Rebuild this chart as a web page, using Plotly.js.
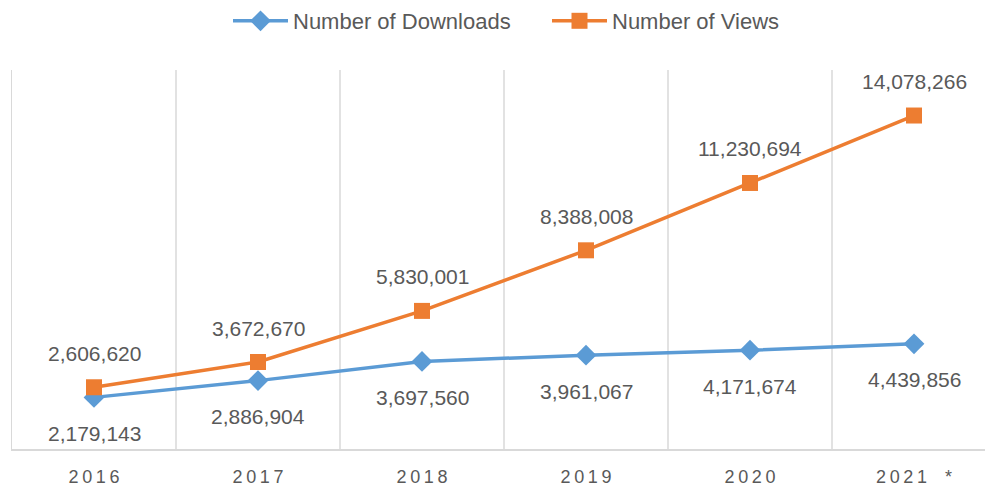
<!DOCTYPE html>
<html>
<head>
<meta charset="utf-8">
<script src="https://cdn.plot.ly/plotly-3.0.1.min.js"></script>
<style>html,body{margin:0;padding:0;background:#fff;}#chart{width:985px;height:488px;}</style>
</head>
<body>
<div id="chart"></div>
<script>
const years = ["2016", "2017", "2018", "2019", "2020", "2021 *"];
const downloads = [2179143, 2886904, 3697560, 3961067, 4171674, 4439856];
const views = [2606620, 3672670, 5830001, 8388008, 11230694, 14078266];

const FONT = "Liberation Sans, Arial, sans-serif";
const GRAY = "#595959";
const BLUE = "#5B9BD5";
const ORANGE = "#ED7D31";

function spaced(s) {
  // Emulate letter spacing of the category labels
  return s.split("").map(c => c === " " ? "\u2009\u2009\u2009" : c).join("\u2009");
}
function fmt(v) { return v.toLocaleString("en-US"); }

const idx = years.map((_, i) => i);

const traces = [
  {
    name: "Number of Downloads",
    x: idx, y: downloads, type: "scatter", mode: "lines+markers",
    line: {color: BLUE, width: 3.5},
    marker: {symbol: "diamond", size: 16, color: BLUE}
  },
  {
    name: "Number of Views",
    x: idx, y: views, type: "scatter", mode: "lines+markers",
    line: {color: ORANGE, width: 3.5},
    marker: {symbol: "square", size: 16, color: ORANGE}
  }
];

const annotations = [];
idx.forEach(i => {
  annotations.push({x: i, y: views[i], xref: "x", yref: "y", text: fmt(views[i]), showarrow: false,
    yshift: 34, xanchor: "center", yanchor: "middle",
    font: {family: FONT, size: 21, color: GRAY}});
  annotations.push({x: i, y: downloads[i], xref: "x", yref: "y", text: fmt(downloads[i]), showarrow: false,
    yshift: -36, xanchor: "center", yanchor: "middle",
    font: {family: FONT, size: 21, color: GRAY}});
});

// vertical category boundary lines
const shapes = idx.slice(1).map(i => ({
  type: "line", xref: "x", yref: "paper", x0: i - 0.5, x1: i - 0.5, y0: 0, y1: 1,
  line: {color: "#D9D9D9", width: 1.5}, layer: "below"
}));

const layout = {
  width: 985, height: 488,
  margin: {l: 12, r: 0, t: 70, b: 39},
  paper_bgcolor: "#fff", plot_bgcolor: "#fff",
  font: {family: FONT, color: GRAY},
  showlegend: true,
  legend: {
    orientation: "h", x: 228 / 985, xref: "container", xanchor: "left",
    y: 1, yref: "container", yanchor: "top",
    font: {family: FONT, size: 22, color: GRAY},
    itemwidth: 55, entrywidth: 249, entrywidthmode: "pixels",
    tracegroupgap: 0, traceorder: "normal"
  },
  xaxis: {
    type: "linear",
    tickmode: "array", tickvals: idx, ticktext: years.map(spaced),
    range: [-0.5, -0.5 + 973 / 164],
    showgrid: false, zeroline: false,
    showline: true, linecolor: "#D9D9D9", linewidth: 1.5,
    ticks: "", ticklabelstandoff: 11,
    tickfont: {family: FONT, size: 18, color: GRAY},
    fixedrange: true
  },
  yaxis: {
    range: [0, 16000000],
    showgrid: false, zeroline: false, showticklabels: false,
    showline: true, linecolor: "#D9D9D9", linewidth: 1.5,
    fixedrange: true
  },
  shapes: shapes,
  annotations: annotations
};

Plotly.newPlot("chart", traces, layout, {displayModeBar: false, staticPlot: true});
</script>
</body>
</html>
